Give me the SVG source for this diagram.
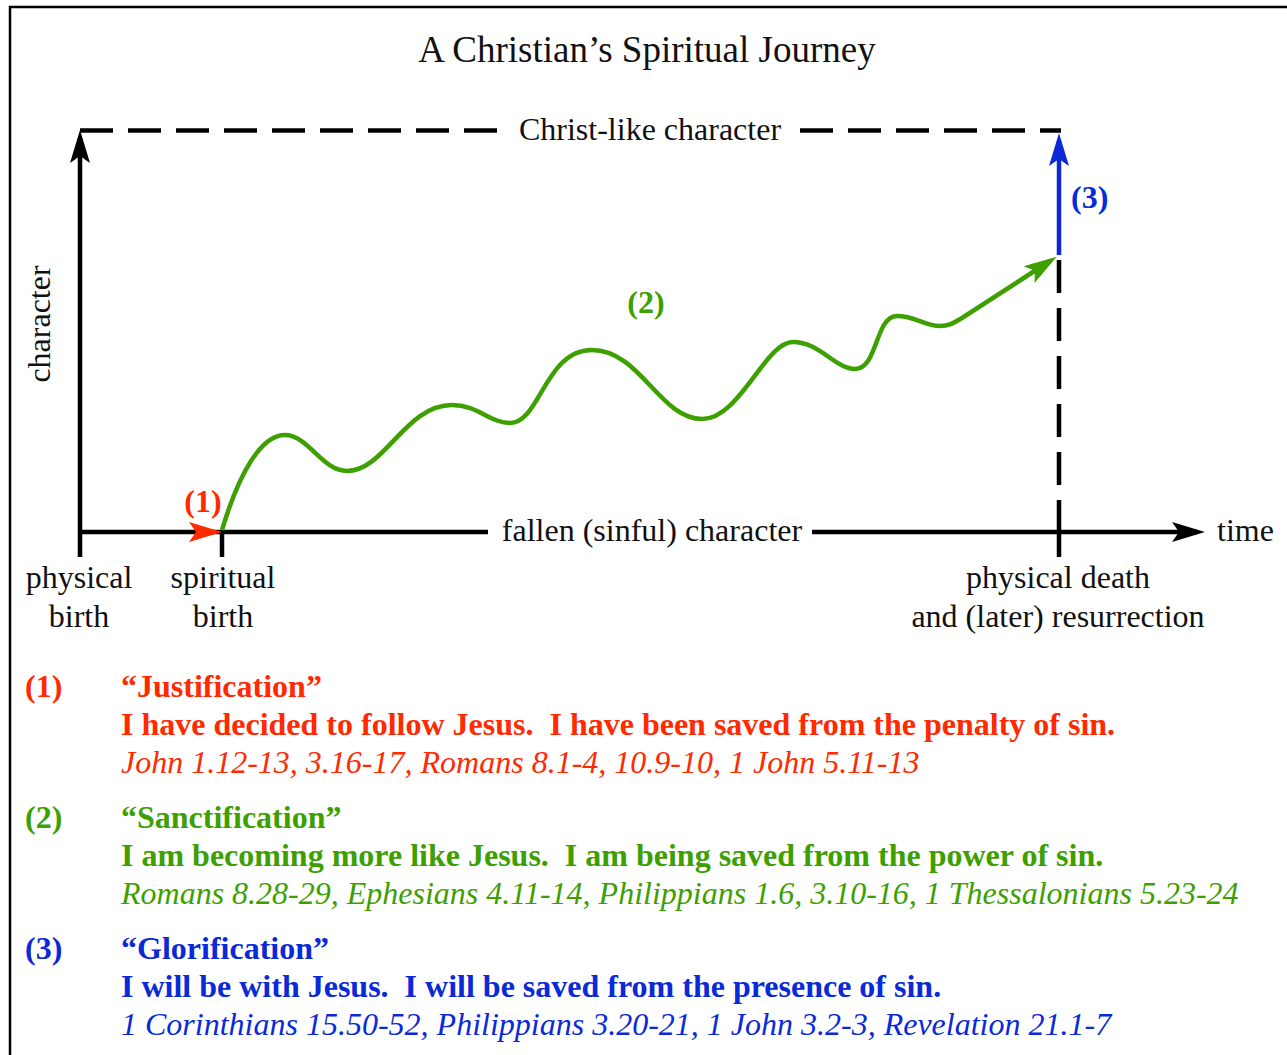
<svg xmlns="http://www.w3.org/2000/svg" width="1287" height="1055" viewBox="0 0 1287 1055">
<style>
text{font-family:"Liberation Serif","Times New Roman",serif;font-size:32px;fill:#111}
.title{font-size:37px}
.b{font-weight:bold}
.i{font-style:italic}
.red{fill:#ff2a00}
.grn{fill:#3d9f00}
.blu{fill:#0a2ad8}
.ax{stroke:#000;stroke-width:4.5;fill:none}
.dash{stroke:#000;stroke-width:4.5;fill:none;stroke-dasharray:33 15}
</style>
<defs>
<marker id="ahK" markerUnits="userSpaceOnUse" markerWidth="40" markerHeight="24" viewBox="0 -12 40 24" refX="25" refY="0" orient="auto"><path d="M0,-10 L33,0 L0,10 L7,0 Z" fill="#000"/></marker>
<marker id="ahR" markerUnits="userSpaceOnUse" markerWidth="40" markerHeight="24" viewBox="0 -12 40 24" refX="25" refY="0" orient="auto"><path d="M0,-10 L33,0 L0,10 L7,0 Z" fill="#ff2a00"/></marker>
<marker id="ahG" markerUnits="userSpaceOnUse" markerWidth="40" markerHeight="24" viewBox="0 -12 40 24" refX="25" refY="0" orient="auto"><path d="M0,-10 L33,0 L0,10 L7,0 Z" fill="#3d9f00"/></marker>
<marker id="ahB" markerUnits="userSpaceOnUse" markerWidth="40" markerHeight="24" viewBox="0 -12 40 24" refX="25" refY="0" orient="auto"><path d="M0,-10 L33,0 L0,10 L7,0 Z" fill="#0a2ad8"/></marker>
</defs>
<rect x="0" y="0" width="1287" height="1055" fill="#fff"/>
<path d="M10,1060 V7 H1290" fill="none" stroke="#000" stroke-width="2.5"/>

<text class="title" x="647" y="62" text-anchor="middle">A Christian’s Spiritual Journey</text>

<g id="connectors">
  <path class="ax" d="M80,557 V138" marker-end="url(#ahK)"/>
  <path class="ax" d="M80,532 H488"/>
  <path class="ax" d="M812,532 H1197" marker-end="url(#ahK)"/>
  <path class="ax" d="M222,532 V557"/>
  <path class="ax" d="M1059,532 V557"/>
  <path class="dash" d="M80,130.5 H497"/>
  <path class="dash" d="M800,130.5 H1061"/>
  <path class="dash" d="M1059,260 V532"/>
  <path d="M200,532 H214" stroke="#ff2a00" stroke-width="4.5" fill="none" marker-end="url(#ahR)"/>
  <path d="M1059,255 V141" stroke="#0a2ad8" stroke-width="4.5" fill="none" marker-end="url(#ahB)"/>
  <path d="M222,530 C240,470 262,435 285,435 C308,435 322,471 347,471 C385,471 405,405 452,405 C478,405 490,423 510,423 C540,423 545,350 592,350 C640,350 660,419 702,419 C740,419 765,342 793,342 C820,342 835,369 855,369 C878,369 875,316 897,316 C915,316 925,326 940,326 C950,326 955,322 962,318 L1050,261" stroke="#3d9f00" stroke-width="4.5" fill="none" marker-end="url(#ahG)"/>
</g>

<g id="labels">
  <text x="650" y="140" text-anchor="middle">Christ-like character</text>
  <text x="652" y="541" text-anchor="middle">fallen (sinful) character</text>
  <text x="1217" y="541">time</text>
  <text transform="translate(50,324) rotate(-90)" text-anchor="middle">character</text>
  <text class="b red" x="203" y="512" text-anchor="middle">(1)</text>
  <text class="b grn" x="646" y="313" text-anchor="middle">(2)</text>
  <text class="b blu" x="1071" y="208">(3)</text>
</g>

<g id="node-physical-birth">
  <text x="79" y="588" text-anchor="middle">physical</text>
  <text x="79" y="627" text-anchor="middle">birth</text>
</g>
<g id="node-spiritual-birth">
  <text x="223" y="588" text-anchor="middle">spiritual</text>
  <text x="223" y="627" text-anchor="middle">birth</text>
</g>
<g id="node-physical-death">
  <text x="1058" y="588" text-anchor="middle">physical death</text>
  <text x="1058" y="627" text-anchor="middle">and (later) resurrection</text>
</g>

<g id="legend-1">
  <text class="b red" x="25" y="697">(1)</text>
  <text class="b red" x="121" y="697">“Justification”</text>
  <text class="b red" x="121" y="735" xml:space="preserve">I have decided to follow Jesus.  I have been saved from the penalty of sin.</text>
  <text class="i red" x="121" y="773">John 1.12-13, 3.16-17, Romans 8.1-4, 10.9-10, 1 John 5.11-13</text>
</g>
<g id="legend-2">
  <text class="b grn" x="25" y="828">(2)</text>
  <text class="b grn" x="121" y="828">“Sanctification”</text>
  <text class="b grn" x="121" y="866" xml:space="preserve">I am becoming more like Jesus.  I am being saved from the power of sin.</text>
  <text class="i grn" x="121" y="904">Romans 8.28-29, Ephesians 4.11-14, Philippians 1.6, 3.10-16, 1 Thessalonians 5.23-24</text>
</g>
<g id="legend-3">
  <text class="b blu" x="25" y="959">(3)</text>
  <text class="b blu" x="121" y="959">“Glorification”</text>
  <text class="b blu" x="121" y="997" xml:space="preserve">I will be with Jesus.  I will be saved from the presence of sin.</text>
  <text class="i blu" x="121" y="1035">1 Corinthians 15.50-52, Philippians 3.20-21, 1 John 3.2-3, Revelation 21.1-7</text>
</g>
</svg>
